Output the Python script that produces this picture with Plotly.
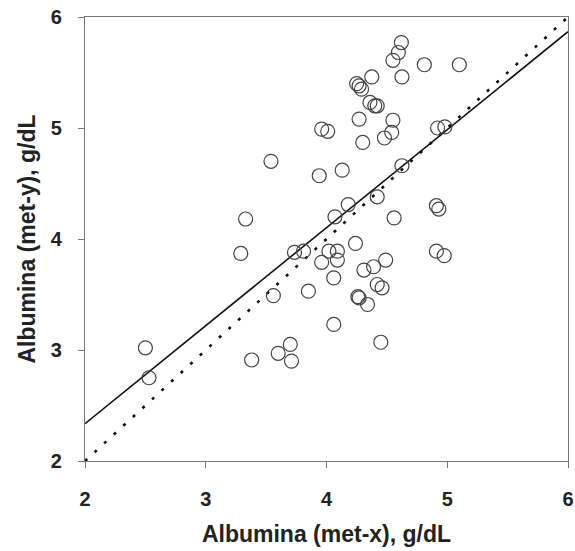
import plotly.graph_objects as go

# Albumina values
met_x = [4.62, 4.595, 4.55, 4.81, 5.10, 4.375, 4.625, 4.25, 4.27, 4.29,
         4.36, 4.40, 4.42, 4.27, 4.55, 4.54, 4.48, 4.92, 4.98, 3.96,
         4.01, 4.30, 3.54, 4.13, 3.94, 4.625, 4.18, 4.42, 4.07, 4.56,
         4.91, 4.93, 3.33, 3.29, 3.735, 3.81, 4.02, 4.09, 3.96, 4.09,
         4.24, 4.49, 4.39, 4.31, 4.91, 4.975, 3.85, 3.56, 4.06, 4.42,
         4.46, 4.26, 4.27, 4.34, 4.06, 4.45, 3.70, 3.60, 3.71, 3.38,
         2.50, 2.53]
met_y = [5.77, 5.68, 5.61, 5.57, 5.57, 5.46, 5.46, 5.40, 5.38, 5.35,
         5.23, 5.20, 5.20, 5.08, 5.07, 4.96, 4.91, 5.00, 5.01, 4.99,
         4.97, 4.87, 4.70, 4.62, 4.57, 4.66, 4.31, 4.38, 4.20, 4.19,
         4.30, 4.27, 4.18, 3.87, 3.88, 3.89, 3.89, 3.89, 3.79, 3.81,
         3.96, 3.81, 3.75, 3.72, 3.89, 3.85, 3.53, 3.49, 3.65, 3.59,
         3.56, 3.48, 3.47, 3.41, 3.23, 3.07, 3.05, 2.97, 2.90, 2.91,
         3.02, 2.75]

# regression line (solid) and identity line (dotted)
fit_intercept = 0.57
fit_slope = 0.883
line_x = [2, 6]
fit_y = [fit_intercept + fit_slope * v for v in line_x]
identity_y = list(line_x)

tick_vals = [2, 3, 4, 5, 6]

fig = go.Figure()
fig.add_trace(go.Scatter(x=line_x, y=identity_y, mode="lines",
                         line=dict(color="#111", width=2.6, dash="3px,10px"),
                         hoverinfo="skip", cliponaxis=False))
fig.add_trace(go.Scatter(x=line_x, y=fit_y, mode="lines",
                         line=dict(color="#111", width=1.6),
                         hoverinfo="skip"))
fig.add_trace(go.Scatter(x=met_x, y=met_y, mode="markers",
                         marker=dict(symbol="circle-open", size=14,
                                     color="#444", line=dict(width=1.2, color="#444"))))

font_family = "Liberation Sans, Arial, sans-serif"
tick_font = dict(family=font_family, size=20, color="#222", weight="bold")
title_font = dict(family=font_family, size=23, color="#222", weight="bold")
axis_common = dict(
    range=[2, 6], tickvals=tick_vals, ticktext=[str(t) for t in tick_vals],
    showgrid=False, zeroline=False, showline=True, mirror=True,
    linecolor="#777", linewidth=1.3, ticks="outside", ticklen=6,
    tickcolor="#777", tickwidth=1.3, automargin=False,
    tickfont=tick_font,
)

fig.update_layout(
    width=575, height=551,
    margin=dict(l=85, r=7, t=17, b=90),
    paper_bgcolor="white", plot_bgcolor="white",
    showlegend=False,
    font=dict(family=font_family, color="#222"),
    xaxis=dict(**axis_common,
               title=dict(text="Albumina (met-x), g/dL", font=title_font,
                          standoff=16),
               ticklabelstandoff=14),
    yaxis=dict(**axis_common,
               title=dict(text="Albumina (met-y), g/dL", font=title_font,
                          standoff=8),
               ticklabelstandoff=12),
)

fig.write_html("out.html", config={"displayModeBar": False},
               post_script="document.body.style.margin='0';document.body.style.overflow='hidden';")
